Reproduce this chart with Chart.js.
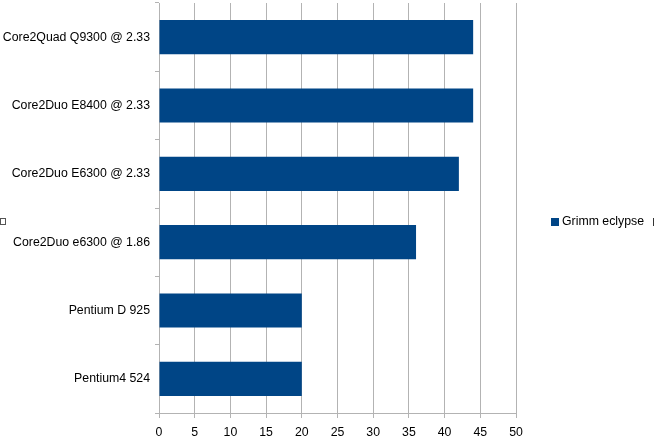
<!DOCTYPE html>
<html>
<head>
<meta charset="utf-8">
<script src="https://cdn.jsdelivr.net/npm/chart.js@4/dist/chart.umd.min.js"></script>
<style>
  html, body { margin: 0; padding: 0; background: #fff; }
  #wrap { width: 656px; height: 444px; }
</style>
</head>
<body>
<div id="wrap"><canvas id="cpuChart"></canvas></div>
<script>
const cpus = [
    "Core2Quad Q9300 @ 2.33",
    "Core2Duo E8400 @ 2.33",
    "Core2Duo E6300 @ 2.33",
    "Core2Duo e6300 @ 1.86",
    "Pentium D 925",
    "Pentium4 524"
];
const grimmEclypse = [44, 44, 42, 36, 20, 20];
const seriesName = "Grimm eclypse";
const xMax = 50;
const xStep = 5;

const labelFont = { size: 12.3, family: '"Liberation Sans", Arial, sans-serif' };

// legend drawn by hand, to the right of the plot like the original
const sideLegend = {
    id: 'sideLegend',
    afterDraw(chart) {
        const c = chart.ctx;
        const area = chart.chartArea;
        const midY = (area.top + area.bottom) / 2 + 14;
        const lx = area.right + 35;
        c.save();
        c.fillStyle = chart.data.datasets[0].backgroundColor;
        c.fillRect(lx, midY - 4, 8, 8);
        c.fillStyle = '#000';
        c.font = '12.3px "Liberation Sans", Arial, sans-serif';
        c.textBaseline = 'middle';
        c.fillText(chart.data.datasets[0].label, lx + 11, midY);
        // little selection handles at the edges
        c.strokeStyle = '#555';
        c.lineWidth = 1;
        c.strokeRect(0.5, midY - 3.5, 5, 6);
        c.fillStyle = '#333';
        c.fillRect(chart.width - 3, midY - 4, 1, 8);
        c.restore();
    }
};

const ctx = document.getElementById("cpuChart").getContext("2d");
const chart = new Chart(ctx, {
    type: "bar",
    data: {
        labels: cpus,
        datasets: [{
            label: seriesName,
            data: grimmEclypse,
            backgroundColor: "#004586",
            barPercentage: 0.5,
            categoryPercentage: 1.0
        }]
    },
    options: {
        indexAxis: 'y',
        responsive: true,
        maintainAspectRatio: false,
        animation: false,
        layout: { padding: { top: 3, right: 140, left: 0, bottom: 0 } },
        scales: {
            x: {
                min: 0,
                max: xMax,
                ticks: {
                    stepSize: xStep,
                    color: '#000',
                    padding: 7,
                    font: labelFont
                },
                grid: { color: '#b3b3b3', tickLength: 5 },
                border: { color: '#b3b3b3' },
                afterFit(scale) { scale.height = 31; }
            },
            y: {
                ticks: {
                    color: '#000',
                    padding: 5,
                    font: labelFont
                },
                grid: { offset: true, drawOnChartArea: false, color: '#b3b3b3', tickLength: 4 },
                border: { color: '#b3b3b3' },
                afterFit(scale) {
                    scale.width = 159;
                    scale.paddingTop = 0;
                    scale.paddingBottom = 0;
                }
            }
        },
        plugins: {
            legend: { display: false },
            tooltip: { enabled: false }
        }
    },
    plugins: [sideLegend]
});
</script>
</body>
</html>
